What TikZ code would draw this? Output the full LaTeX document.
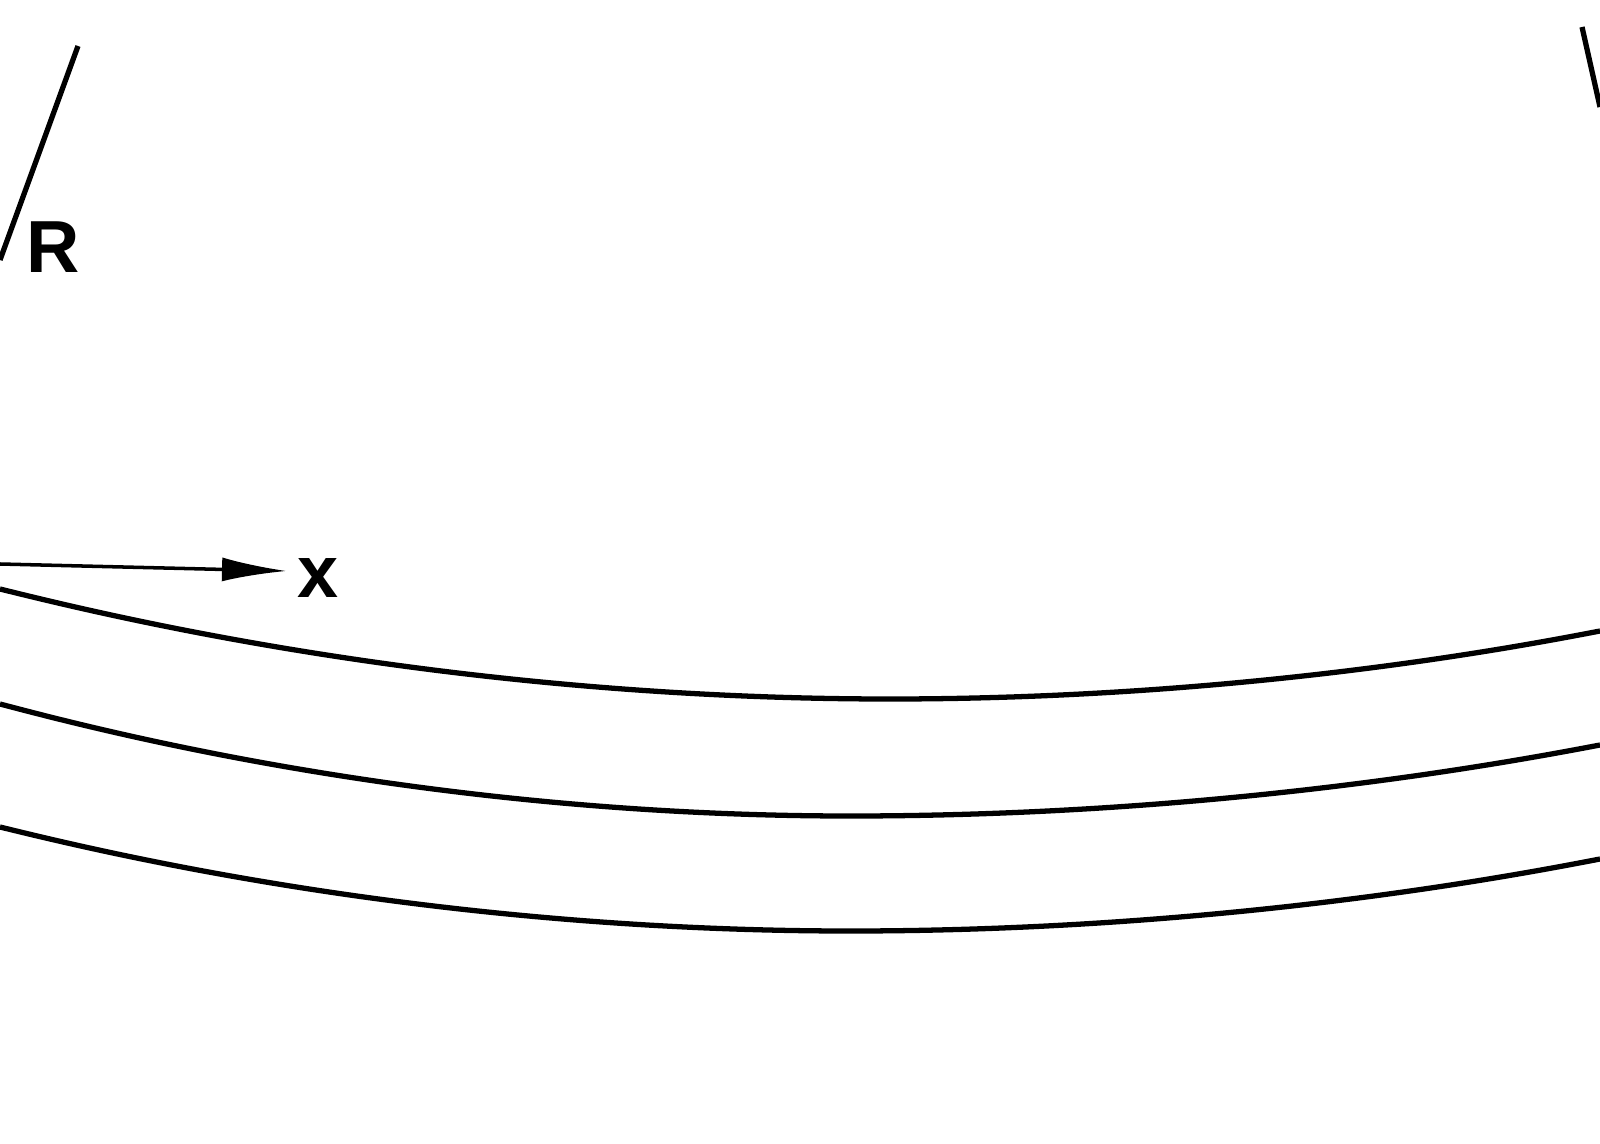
\documentclass[tikz,border=0pt]{standalone}
\usepackage{fontspec}
\setsansfont{Liberation Sans}
\usetikzlibrary{arrows.meta}

\begin{document}
\begin{tikzpicture}[x=1cm, y=-1cm, line width=1.5pt, >={Latex[length=6.5mm,width=2.4mm]}]

\useasboundingbox (0,0) rectangle (16,11.44);
\tikzstyle{every node}=[font=\sffamily\bfseries\fontsize{21}{21}\selectfont, inner sep=0pt]

% radii
\draw    (0.78, 0.46)  coordinate (rtop)
         (0,    2.60)  coordinate (rbot)
         (15.82,0.27)  coordinate (stop)
         (16,   1.07)  coordinate (sbot);
\draw    (0.53, 2.47)  node (rlab) {R}
         (3.18, 5.78)  node (xlab) {x};

\draw (rtop) -- (rbot);
\draw (stop) -- (sbot);

% axis
\coordinate (xo) at (0, 5.64);
\coordinate (xe) at (2.87, 5.71);
\draw[->, line width=1pt] (xo) -- (xe);

% layers
\coordinate (a1) at (0, 5.89);  \coordinate (b1) at (8.9, 6.99);  \coordinate (c1) at (16, 6.31);
\coordinate (a2) at (0, 7.04);  \coordinate (b2) at (8.5, 8.16);  \coordinate (c2) at (16, 7.45);
\coordinate (a3) at (0, 8.27);  \coordinate (b3) at (8.5, 9.31);  \coordinate (c3) at (16, 8.59);

\draw (a1) parabola bend (b1) (c1);
\draw (a2) parabola bend (b2) (c2);
\draw (a3) parabola bend (b3) (c3);

\end{tikzpicture}
\end{document}
